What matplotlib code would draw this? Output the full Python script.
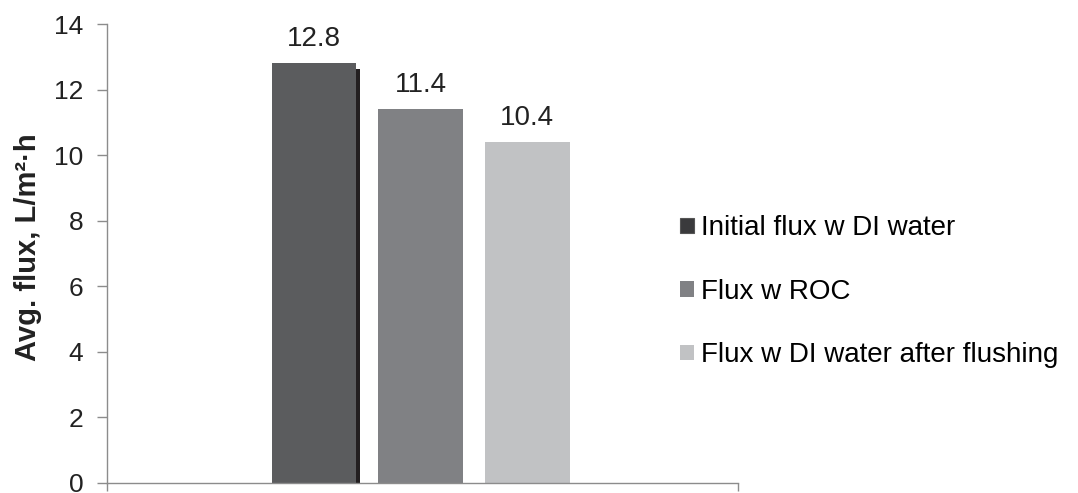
import matplotlib
matplotlib.use("Agg")
import matplotlib.pyplot as plt
import matplotlib.patheffects as pe
from matplotlib.patches import Patch

series = ["Initial flux w DI water", "Flux w ROC", "Flux w DI water after flushing"]
values = [12.8, 11.4, 10.4]
labels = ["12.8", "11.4", "10.4"]
colors = ["#5b5c5e", "#808184", "#c1c2c4"]
legend_colors = ["#3a3a3c", "#808184", "#c1c2c4"]
yticks = [0, 2, 4, 6, 8, 10, 12, 14]

plt.rcParams['font.family'] = ['Liberation Sans', 'DejaVu Sans']

fig = plt.figure(figsize=(10.78, 4.93), dpi=100)
ax = fig.add_axes([0.0993, 0.0203, 0.5853, 0.931])

width = 0.134
step = 0.169
center = -0.003
axis_col = "#8c8c8c"
for i, (v, c, lab) in enumerate(zip(values, colors, labels)):
    x = center + (i - 1) * step
    bars = ax.bar(x, v, width=width, color=c, edgecolor="none", zorder=3)
    if i == 0:
        bars[0].set_path_effects([pe.SimplePatchShadow(offset=(3, -4), shadow_rgbFace="#231f20", alpha=1.0),
                                  pe.Normal()])
    ax.bar_label(bars, labels=[lab], padding=8, fontsize=20, color="#222222")

ax.set_xlim(-0.5, 0.5)
ax.set_ylim(0, 14)
ax.set_yticks(yticks)
ax.set_yticklabels([str(t) for t in yticks], fontsize=19, color="#222222")
ax.set_xticks([-0.5, 0.5])
ax.set_xticklabels(["", ""])
ax.tick_params(axis="y", direction="out", length=7, color=axis_col, width=1, pad=10)
ax.tick_params(axis="x", direction="out", length=6, color=axis_col, width=1)
for s in ["top", "right"]:
    ax.spines[s].set_visible(False)
for s in ["left", "bottom"]:
    ax.spines[s].set_color(axis_col)
    ax.spines[s].set_linewidth(1)
ax.spines["bottom"].set_zorder(4)

ax.set_ylabel("Avg. flux, L/m²·h", fontsize=21, fontweight="bold", color="#222222", labelpad=6)
ax.yaxis.set_label_coords(-0.103, 0.514)

handles = [Patch(facecolor=c, edgecolor="#555555" if i == 0 else "none", linewidth=0.8)
           for i, c in enumerate(legend_colors)]
fig.legend(handles, series, loc="center left", bbox_to_anchor=(0.608, 0.408), frameon=False,
           fontsize=20, handlelength=0.5, handleheight=0.5, handletextpad=0.25, labelspacing=1.35)

fig.savefig("out.png", dpi=100)
